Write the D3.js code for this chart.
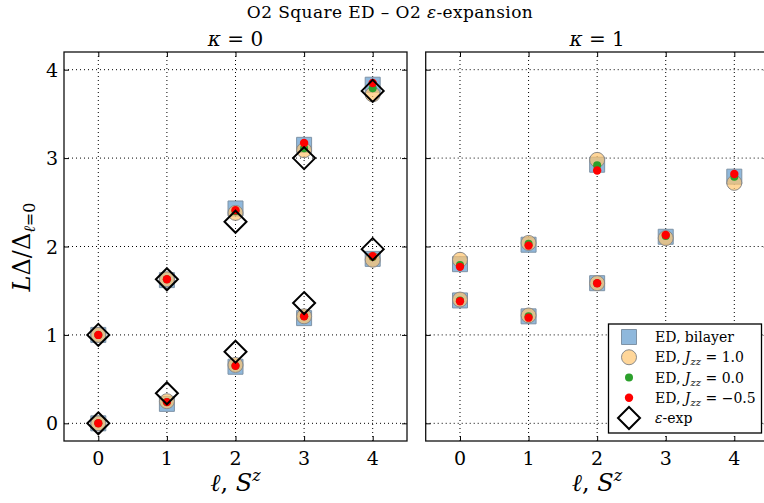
<!DOCTYPE html>
<html>
<head>
<meta charset="utf-8">
<script src="https://cdn.jsdelivr.net/npm/d3@7"></script>
<style>
  body { margin: 0; background: #fff; }
  svg { display: block; font-family: "DejaVu Serif", serif; }
  .grid line { stroke: #000; stroke-width: 1; stroke-dasharray: 1,3; }
  .tick-label { font-size: 19px; }
</style>
</head>
<body>
<div id="chart"></div>
<script>
// set up data
var xTicks = [0, 1, 2, 3, 4],
    yTicks = [0, 1, 2, 3, 4];

// kappa = 0 panel
var ell_k0      = [0, 0, 1, 1, 2, 2, 3, 3, 4, 4];
var bilayer_k0  = [0, 1, 0.22, 1.62, 0.64, 2.43, 1.19, 3.15, 1.86, 3.83];
var jzz10_k0    = [0, 1, 0.25, 1.63, 0.66, 2.38, 1.21, 3.09, 1.85, 3.72];
var jzz00_k0    = [0, 1, 0.24, 1.63, 0.65, 2.40, 1.21, 3.11, 1.88, 3.79];
var jzzm05_k0   = [0, 1, 0.24, 1.63, 0.65, 2.41, 1.21, 3.17, 1.89, 3.85];
var eps_k0      = [0, 1, 0.34, 1.63, 0.81, 2.28, 1.36, 3.00, 1.97, 3.76];

// kappa = 1 panel
var ell_k1      = [0, 0, 1, 1, 2, 2, 3, 4];
var bilayer_k1  = [1.39, 1.80, 1.21, 2.02, 1.585, 2.925, 2.11, 2.79];
var jzz10_k1    = [1.40, 1.85, 1.22, 2.04, 1.585, 2.98, 2.095, 2.72];
var jzz00_k1    = [1.39, 1.79, 1.21, 2.03, 1.585, 2.92, 2.12, 2.79];
var jzzm05_k1   = [1.38, 1.77, 1.195, 2.01, 1.585, 2.86, 2.13, 2.82];

var legendLabels = ["bilayer", "1.0", "0.0", "\u22120.5", "eps"];

// set up layout
var W = 764, H = 503;
var panels = [
    { title: "0", left: 64, right: 407, ell: ell_k0,
      series: [bilayer_k0, jzz10_k0, jzz00_k0, jzzm05_k0], eps: eps_k0, yLabels: true },
    { title: "1", left: 425.7, right: 768.6, ell: ell_k1,
      series: [bilayer_k1, jzz10_k1, jzz00_k1, jzzm05_k1], eps: null, yLabels: false }
];
var plotTop = 52, plotBottom = 441;

var svg = d3.select("#chart").append("svg")
    .attr("width", W)
    .attr("height", H);

// suptitle
var sup = svg.append("text")
    .attr("x", 390)
    .attr("y", 18)
    .attr("text-anchor", "middle")
    .style("font-size", "17px")
    .style("letter-spacing", "0.4px");
sup.append("tspan").text("O2 Square ED \u2013 O2 ");
sup.append("tspan").style("font-style", "italic").text("\u03b5");
sup.append("tspan").text("-expansion");

// marker drawing helpers
var square = d3.symbol().type(d3.symbolSquare).size(15 * 15),
    diamond = "M0,-11L11,0L0,11L-11,0Z";

function drawMarker(g, kind) {
    if (kind === 0) {
        g.append("path").attr("d", square)
            .style("fill", "#8fb8dc").style("stroke", "#7f93a6").style("stroke-width", 1);
    } else if (kind === 1) {
        g.append("circle").attr("r", 7.5)
            .style("fill", "#ffc46e").style("fill-opacity", 0.7)
            .style("stroke", "#8a8a8a").style("stroke-width", 1);
    } else if (kind === 2) {
        g.append("circle").attr("r", 4).style("fill", "#2ca02c");
    } else if (kind === 3) {
        g.append("circle").attr("r", 4.2).style("fill", "#ff0000");
    } else {
        g.append("path").attr("d", diamond)
            .style("fill", "none").style("stroke", "#000").style("stroke-width", 2);
    }
}

panels.forEach(function (p) {
    var x = d3.scaleLinear().domain([-0.5, 4.5]).range([p.left, p.right]),
        y = d3.scaleLinear().domain([-0.2, 4.2]).range([plotBottom, plotTop]);

    var g = svg.append("g");

    // grid
    var grid = g.append("g").attr("class", "grid");
    grid.selectAll(".gx").data(xTicks).enter().append("line")
        .attr("x1", function (d) { return x(d); })
        .attr("x2", function (d) { return x(d); })
        .attr("y1", plotTop).attr("y2", plotBottom);
    grid.selectAll(".gy").data(yTicks).enter().append("line")
        .attr("y1", function (d) { return y(d); })
        .attr("y2", function (d) { return y(d); })
        .attr("x1", p.left).attr("x2", p.right);

    // points
    p.series.forEach(function (vals, k) {
        vals.forEach(function (v, i) {
            var m = g.append("g")
                .attr("transform", "translate(" + x(p.ell[i]) + "," + y(v) + ")");
            drawMarker(m, k);
        });
    });
    if (p.eps) {
        p.eps.forEach(function (v, i) {
            var m = g.append("g")
                .attr("transform", "translate(" + x(p.ell[i]) + "," + y(v) + ")");
            drawMarker(m, 4);
        });
    }

    // axes: ticks inside on all four sides
    var tl = 5;
    g.append("g").attr("transform", "translate(0," + plotBottom + ")")
        .call(d3.axisBottom(x).tickValues(xTicks).tickSizeInner(-tl).tickSizeOuter(0).tickFormat(""))
        .call(function (a) { a.select(".domain").remove(); });
    g.append("g").attr("transform", "translate(0," + plotTop + ")")
        .call(d3.axisTop(x).tickValues(xTicks).tickSizeInner(-tl).tickSizeOuter(0).tickFormat(""))
        .call(function (a) { a.select(".domain").remove(); });
    g.append("g").attr("transform", "translate(" + p.left + ",0)")
        .call(d3.axisLeft(y).tickValues(yTicks).tickSizeInner(-tl).tickSizeOuter(0).tickFormat(""))
        .call(function (a) { a.select(".domain").remove(); });
    g.append("g").attr("transform", "translate(" + p.right + ",0)")
        .call(d3.axisRight(y).tickValues(yTicks).tickSizeInner(-tl).tickSizeOuter(0).tickFormat(""))
        .call(function (a) { a.select(".domain").remove(); });
    g.selectAll(".tick line").style("stroke", "#000").style("stroke-width", 1);

    // frame
    g.append("rect")
        .attr("x", p.left).attr("y", plotTop)
        .attr("width", p.right - p.left).attr("height", plotBottom - plotTop)
        .style("fill", "none").style("stroke", "#111").style("stroke-width", 1.3);

    // tick labels
    g.selectAll(".xl").data(xTicks).enter().append("text")
        .attr("class", "tick-label")
        .attr("x", function (d) { return x(d); })
        .attr("y", 465)
        .attr("text-anchor", "middle")
        .text(function (d) { return d; });
    if (p.yLabels) {
        g.selectAll(".yl").data(yTicks).enter().append("text")
            .attr("class", "tick-label")
            .attr("x", p.left - 6)
            .attr("y", function (d) { return y(d) + 7; })
            .attr("text-anchor", "end")
            .text(function (d) { return d; });
    }

    // panel title
    var cx = (p.left + p.right) / 2;
    var t = g.append("text").attr("x", cx).attr("y", 46)
        .attr("text-anchor", "middle").style("font-size", "20px");
    t.append("tspan").style("font-style", "italic").text("\u03ba");
    t.append("tspan").text(" = " + p.title);

    // x label
    var xl = g.append("text").attr("x", cx).attr("y", 491)
        .attr("text-anchor", "middle").style("font-size", "24px");
    xl.append("tspan").style("font-style", "italic").text("\u2113");
    xl.append("tspan").text(", ");
    xl.append("tspan").style("font-style", "italic").text("S");
    xl.append("tspan").style("font-style", "italic").style("font-size", "16px")
        .attr("dy", -10).text("z");
});

// y label
var yl = svg.append("text")
    .attr("transform", "translate(30,247) rotate(-90)")
    .attr("text-anchor", "middle")
    .style("font-size", "24px");
yl.append("tspan").style("font-style", "italic").text("L");
yl.append("tspan").text("\u0394/\u0394");
yl.append("tspan").style("font-size", "16px").attr("dy", 5)
    .append("tspan").style("font-style", "italic").text("\u2113");
yl.append("tspan").style("font-size", "16px").text("=0");

// legend
var lg = svg.append("g");
lg.append("rect")
    .attr("x", 608.5).attr("y", 324)
    .attr("width", 153).attr("height", 109)
    .style("fill", "#fff").style("stroke", "#000").style("stroke-width", 1.3);

var rowY = d3.scalePoint().domain(d3.range(legendLabels.length)).range([337, 418]);
legendLabels.forEach(function (lab, i) {
    var m = lg.append("g").attr("transform", "translate(629," + rowY(i) + ")");
    drawMarker(m, i);
    var t = lg.append("text").attr("x", 655).attr("y", rowY(i) + 5)
        .style("font-size", "14px");
    if (i === 0) {
        t.text("ED, bilayer");
    } else if (i === 4) {
        t.append("tspan").style("font-style", "italic").text("\u03b5");
        t.append("tspan").text("-exp");
    } else {
        t.append("tspan").text("ED, ");
        t.append("tspan").style("font-style", "italic").text("J");
        t.append("tspan").style("font-style", "italic").style("font-size", "10px")
            .attr("dy", 3).text("zz");
        t.append("tspan").attr("dy", -3).text(" = " + lab);
    }
});
</script>
</body>
</html>
